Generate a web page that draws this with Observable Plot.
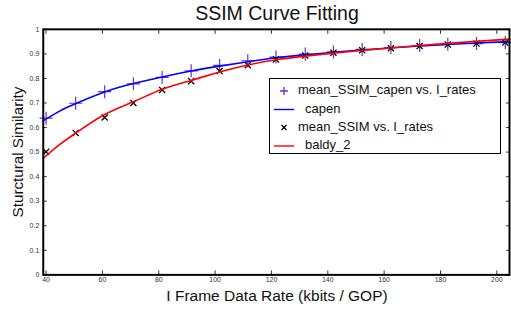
<!DOCTYPE html>
<html>
<head>
<meta charset="utf-8">
<script src="https://cdn.jsdelivr.net/npm/d3@7"></script>
<script src="https://cdn.jsdelivr.net/npm/@observablehq/plot@0.6"></script>
<style>
  html, body { margin: 0; padding: 0; background: white; overflow: hidden; }
  #wrap { position: relative; width: 511px; height: 316px; overflow: hidden; font-family: "Liberation Sans", Arial, sans-serif; }
  #wrap svg { position: absolute; left: 0; top: 0; }
  .title { position: absolute; left: 0; width: 554px; top: 2px; text-align: center; font-size: 19.5px; color: #111; }
  .xlabel { position: absolute; left: 0; width: 554px; top: 287px; text-align: center; font-size: 15.5px; color: #111; }
  .ylabel { position: absolute; left: 17px; top: 152px; transform: translate(-50%, -50%) rotate(-90deg); white-space: nowrap; font-size: 15.2px; color: #111; }
  .legend { position: absolute; left: 269px; top: 78px; width: 232px; height: 76px; border: 1px solid #000; background: white; box-sizing: border-box; font-size: 13px; color: #111; }
  .legend .row { position: absolute; left: 0; height: 18px; line-height: 18px; white-space: nowrap; }
  .legend svg { position: absolute; left: 0; top: 0; }
</style>
</head>
<body>
<div id="wrap"></div>
<script>
// ---- data ----
const rates = [40, 50.5, 60.8, 71, 81.2, 91.5, 101.6, 111.6, 121.6, 132, 142, 152.2, 162.4, 172.6, 182.6, 192.8, 203];
const capenSSIM = [0.638, 0.699, 0.746, 0.778, 0.804, 0.831, 0.853, 0.872, 0.887, 0.899, 0.908, 0.918, 0.926, 0.934, 0.939, 0.942, 0.946];
const meanSSIM = [0.501, 0.578, 0.641, 0.700, 0.753, 0.789, 0.830, 0.854, 0.877, 0.893, 0.905, 0.915, 0.923, 0.932, 0.938, 0.942, 0.946];

const fitRates = [39, 45, 50.6, 60.8, 71, 81.2, 91.5, 101.6, 111.6, 121.6, 132, 142, 152, 162, 172.6, 182.5, 192.7, 204.5];
const capenFit = [0.628, 0.668, 0.698, 0.745, 0.779, 0.806, 0.830, 0.850, 0.868, 0.884, 0.896, 0.906, 0.916, 0.924, 0.932, 0.938, 0.944, 0.950];
const baldyFit = [0.475, 0.532, 0.578, 0.653, 0.705, 0.756, 0.792, 0.826, 0.855, 0.876, 0.891, 0.903, 0.914, 0.924, 0.934, 0.943, 0.951, 0.960];

const xTicks = [40, 60, 80, 100, 120, 140, 160, 180, 200];
const yTicks = [0, 0.1, 0.2, 0.3, 0.4, 0.5, 0.6, 0.7, 0.8, 0.9, 1];

const titleText = "SSIM Curve Fitting";
const xLabelText = "I Frame Data Rate (kbits / GOP)";
const yLabelText = "Sturctural Similarity";
const legendLabels = ["mean_SSIM_capen vs. I_rates", "capen", "mean_SSIM vs. I_rates", "baldy_2"];

const points = rates.map((r, i) => ({r, capen: capenSSIM[i], mean: meanSSIM[i]}));
const fits = fitRates.map((r, i) => ({r, capen: capenFit[i], baldy: baldyFit[i]}));

const purple = "#6a2fd0";
const fmt = d3.format("~g");

const chart = Plot.plot({
  width: 514,
  height: 316,
  marginLeft: 43,
  marginRight: 2,
  marginTop: 29,
  marginBottom: 40,
  x: {domain: [39, 204.5]},
  y: {domain: [0, 1]},
  style: {fontFamily: "'Liberation Sans', Arial, sans-serif", fontSize: "7px", color: "#333", background: "transparent", overflow: "visible"},
  marks: [
    Plot.axisX(xTicks, {anchor: "bottom", tickSize: -4, tickPadding: 6, label: null, tickFormat: fmt}),
    Plot.axisX(xTicks, {anchor: "top", tickSize: -4, label: null, tickFormat: () => ""}),
    Plot.axisY(yTicks, {anchor: "left", tickSize: -4, tickPadding: 8, label: null, tickFormat: fmt}),
    Plot.axisY(yTicks, {anchor: "right", tickSize: -4, label: null, tickFormat: () => ""}),
    Plot.dot(points, {x: "r", y: "capen", symbol: "plus", stroke: purple, r: 4.3, strokeWidth: 1.2}),
    Plot.line(fits, {x: "r", y: "capen", stroke: "#0000ff", strokeWidth: 1.6, curve: "natural"}),
    Plot.dot(points, {x: "r", y: "mean", symbol: "times", stroke: "#000", r: 2.9, strokeWidth: 1.3}),
    Plot.line(fits, {x: "r", y: "baldy", stroke: "#ff0000", strokeWidth: 1.6, curve: "natural"}),
    Plot.frame({stroke: "#000", strokeWidth: 2})
  ]
});

const wrap = document.getElementById("wrap");
wrap.appendChild(chart);

function addDiv(cls, text) {
  const d = document.createElement("div");
  d.className = cls;
  d.textContent = text;
  wrap.appendChild(d);
  return d;
}
addDiv("title", titleText);
addDiv("xlabel", xLabelText);
addDiv("ylabel", yLabelText);

// legend
const legend = document.createElement("div");
legend.className = "legend";
const ns = "http://www.w3.org/2000/svg";
const lsvg = document.createElementNS(ns, "svg");
lsvg.setAttribute("width", "230");
lsvg.setAttribute("height", "74");
legend.appendChild(lsvg);
const rowY = [12, 30.5, 48.5, 67];
const kinds = ["plus", "blue", "times", "red"];
kinds.forEach((k, i) => {
  const cy = rowY[i];
  const cx = 14;
  if (k === "plus") {
    const p = document.createElementNS(ns, "path");
    p.setAttribute("d", `M${cx-4},${cy}H${cx+4}M${cx},${cy-4}V${cy+4}`);
    p.setAttribute("stroke", purple); p.setAttribute("stroke-width", "1.3");
    lsvg.appendChild(p);
  } else if (k === "times") {
    const p = document.createElementNS(ns, "path");
    p.setAttribute("d", `M${cx-2.5},${cy-2.5}L${cx+2.5},${cy+2.5}M${cx-2.5},${cy+2.5}L${cx+2.5},${cy-2.5}`);
    p.setAttribute("stroke", "#000"); p.setAttribute("stroke-width", "1.3");
    lsvg.appendChild(p);
  } else {
    const p = document.createElementNS(ns, "path");
    p.setAttribute("d", `M${cx-10},${cy}H${cx+10}`);
    p.setAttribute("stroke", k === "blue" ? "#0000ff" : "#ff0000"); p.setAttribute("stroke-width", "1.4");
    lsvg.appendChild(p);
  }
  const row = document.createElement("div");
  row.className = "row";
  row.style.top = (cy - 9 - 1) + "px";
  row.style.left = (k === "plus" || k === "times" ? 28 : 35) + "px";
  row.textContent = legendLabels[i];
  legend.appendChild(row);
});
wrap.appendChild(legend);
</script>
</body>
</html>
